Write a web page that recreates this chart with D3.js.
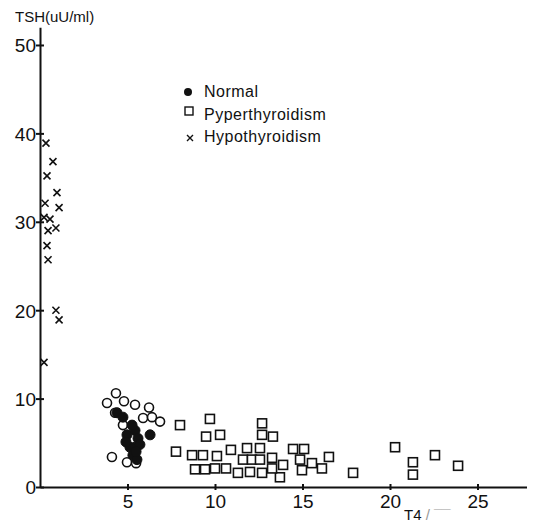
<!DOCTYPE html>
<meta charset="utf-8">
<style>
body { margin: 0; background: #fff; }
text { font-family: "Liberation Sans", Arial, sans-serif; fill: #111; }
.axis path, .axis line { stroke: #111; stroke-width: 2; }
.tick text { font-size: 19px; }
</style>
<body>
<script src="https://cdn.jsdelivr.net/npm/d3@7"></script>
<script>
// [T4, TSH] pairs
var normal = [[4.4,8.4],[4.74,7.9],[4.97,5.9],[5.43,6.4],[5.6,5.5],[6.29,5.9],[5.14,4.5],
  [5.43,4.5],[5.31,3.6],[5.54,3.1],[4.91,5.1],[5.26,7.0],[5.71,4.8],[5.49,4.0]];
var openCircles = [[4.34,10.6],[3.83,9.5],[4.8,9.7],[5.43,9.3],[6.23,9.0],[4.29,8.4],[5.89,7.8],
  [6.4,7.9],[6.86,7.4],[4.74,7.0],[4.11,3.4],[4.97,2.8],[5.49,2.7]];
var hyper = [[8.0,7.0],[7.77,4.0],[8.69,3.6],[8.86,2.0],[9.71,7.7],[9.49,5.7],[10.29,5.9],
  [9.31,3.6],[10.11,3.5],[9.43,2.0],[10.0,2.1],[10.63,2.1],[10.91,4.2],[11.31,1.6],[11.6,3.1],
  [11.83,4.4],[12.0,1.7],[12.11,3.1],[12.57,3.1],[12.69,1.6],[12.57,4.4],[12.69,5.9],[12.69,7.2],
  [13.31,5.7],[13.26,3.3],[13.71,1.1],[13.26,2.1],[13.89,2.5],[14.46,4.3],[14.86,3.1],[15.09,4.3],
  [14.97,1.9],[15.54,2.7],[16.11,2.1],[16.51,3.4],[17.89,1.6],[20.29,4.5],[21.31,2.8],[21.31,1.4],
  [22.57,3.6],[23.89,2.4]];
var hypo = [[0.34,38.9],[0.74,36.8],[0.4,35.2],[0.97,33.3],[1.09,31.6],[0.29,32.1],[0.23,30.5],
  [0.57,30.3],[0.91,29.3],[0.46,29.0],[0.4,27.3],[0.46,25.7],[0.91,20.0],[1.09,18.9],[0.23,14.1]];
var xTicks = [5, 10, 15, 20, 25];
var yTicks = [0, 10, 20, 30, 40, 50];
var legendLabels = ["Normal", "Pyperthyroidism", "Hypothyroidism"];

var svg = d3.select("body").append("svg")
    .attr("width", 544)
    .attr("height", 524);

var x = d3.scaleLinear().domain([0, 27.8]).range([40, 526.5]),
    y = d3.scaleLinear().domain([0, 52]).range([487, 27.3]);

// axes
var yAxis = svg.append("g")
    .attr("class", "axis")
    .attr("transform", "translate(40,0)")
    .call(d3.axisLeft(y).tickValues(yTicks).tickSize(4).tickPadding(0).tickSizeOuter(0));
yAxis.selectAll(".tick line").attr("x1", -4).attr("x2", 4);
yAxis.selectAll(".tick text").attr("dy", "0.36em");

var xAxis = svg.append("g")
    .attr("class", "axis")
    .attr("transform", "translate(0,487)")
    .call(d3.axisBottom(x).tickValues(xTicks).tickSize(3).tickPadding(5).tickSizeOuter(0));
xAxis.selectAll(".tick line").attr("y1", -3).attr("y2", 3);

svg.append("text")
    .attr("x", 15).attr("y", 22)
    .style("font-size", "15px")
    .text("TSH(uU/ml)");

var xt = svg.append("text")
    .attr("x", 404).attr("y", 520)
    .style("font-size", "15px");
xt.append("tspan").text("T4");
xt.append("tspan").style("fill", "#999").text(" / ¯¯");

// marks
svg.selectAll(".open")
    .data(openCircles)
  .enter().append("circle")
    .attr("cx", function(d) { return x(d[0]); })
    .attr("cy", function(d) { return y(d[1]); })
    .attr("r", 4.5)
    .style("fill", "#fff")
    .style("stroke", "#111")
    .style("stroke-width", 1.6);

svg.selectAll(".normal")
    .data(normal)
  .enter().append("circle")
    .attr("cx", function(d) { return x(d[0]); })
    .attr("cy", function(d) { return y(d[1]); })
    .attr("r", 5)
    .style("fill", "#111")
    .style("stroke", "#111");

svg.selectAll(".hyper")
    .data(hyper)
  .enter().append("rect")
    .attr("x", function(d) { return x(d[0]) - 4.5; })
    .attr("y", function(d) { return y(d[1]) - 4.5; })
    .attr("width", 9)
    .attr("height", 9)
    .style("fill", "#fff")
    .style("stroke", "#111")
    .style("stroke-width", 1.6);

// crosses drawn as two strokes each
function crossPath(s) {
  return "M" + (-s) + "," + (-s) + "L" + s + "," + s + "M" + (-s) + "," + s + "L" + s + "," + (-s);
}
svg.selectAll(".hypo")
    .data(hypo)
  .enter().append("path")
    .attr("d", crossPath(3.5))
    .attr("transform", function(d) { return "translate(" + x(d[0]) + "," + y(d[1]) + ")"; })
    .style("fill", "none")
    .style("stroke", "#111")
    .style("stroke-width", 1.6);

// legend
var legend = svg.append("g");
legend.append("circle").attr("cx", 188).attr("cy", 92).attr("r", 4).style("fill", "#111");
legend.append("rect").attr("x", 185).attr("y", 107).attr("width", 8).attr("height", 8)
    .style("fill", "#fff").style("stroke", "#111").style("stroke-width", 1.4);
legend.append("path").attr("d", crossPath(3))
    .attr("transform", "translate(190,138)")
    .style("fill", "none").style("stroke", "#111").style("stroke-width", 1.4);
legend.selectAll(".lab")
    .data(legendLabels)
  .enter().append("text")
    .attr("x", 204)
    .attr("y", function(d, i) { return 97 + i * 22.5; })
    .style("font-size", "16px")
    .style("letter-spacing", "0.5px")
    .text(function(d) { return d; });
</script>
</body>
